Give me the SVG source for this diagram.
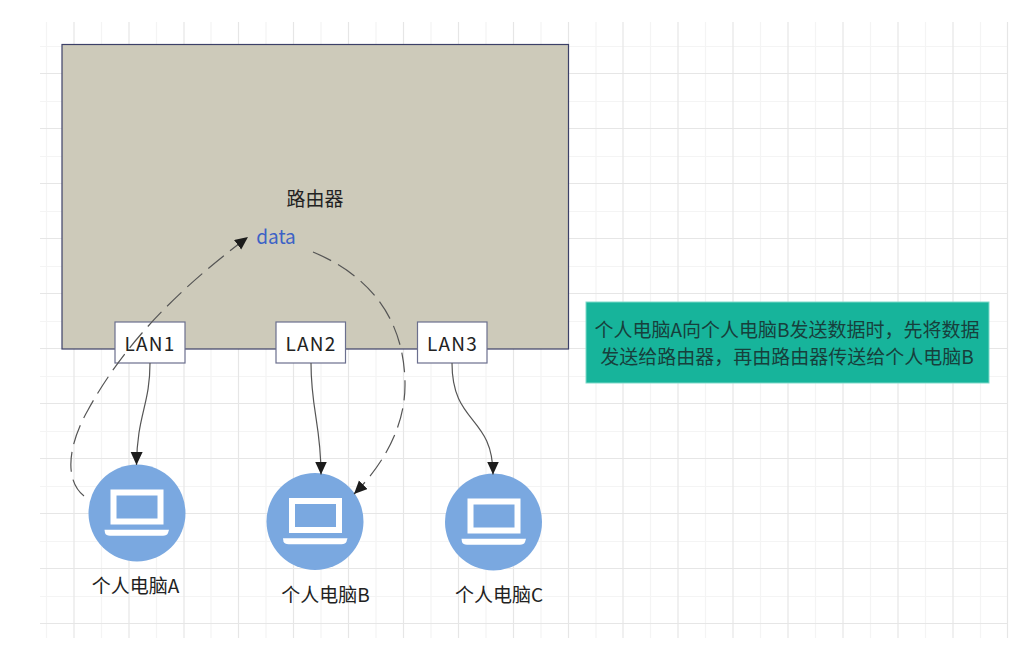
<svg xmlns="http://www.w3.org/2000/svg" width="1035" height="660" viewBox="0 0 1035 660">
<style>
text{font-family:"Noto Sans CJK SC","Noto Sans","Liberation Sans",sans-serif;font-size:19px;fill:#222;text-anchor:middle}
.minor{fill:none;stroke:#f4f4f4;stroke-width:1.2}
.major{fill:none;stroke:#e6e6e6;stroke-width:1.2}
.box{fill:#fff;stroke:#6b6f8e;stroke-width:1.2}
.lan{letter-spacing:1.2px}
.pc{fill:#7aa8e0}
.screen{fill:none;stroke:#fff;stroke-width:6}
.base{fill:#fff}
.wire{fill:none;stroke:#555;stroke-width:1.2;marker-end:url(#arrow)}
.dash{stroke-dasharray:20 8}
</style>
<defs>
<marker id="arrow" markerUnits="userSpaceOnUse" markerWidth="14" markerHeight="14" refX="13" refY="6" orient="auto"><path d="M0 0L13 6L0 12Z" fill="#1c1c1c"/></marker>
<g id="laptop"><rect x="-23.5" y="-20.5" width="47" height="29" class="screen"/><path class="base" d="M-32.5 16.7H32L31 20Q30 22.7 26 22.7H-27Q-31 22.7-32 20Z"/></g>
</defs>
<rect width="1035" height="660" fill="#fff"/>
<g id="grid">
<path class="minor" d="M46.5 22V638M101.5 22V638M156.5 22V638M211 22V638M266 22V638M321 22V638M376 22V638M431 22V638M486 22V638M541 22V638M596 22V638M650.5 22V638M705.5 22V638M760.5 22V638M815.5 22V638M870.5 22V638M925.5 22V638M980.5 22V638M40 46.5H1007M40 101.5H1007M40 156.5H1007M40 211.5H1007M40 266.5H1007M40 321.5H1007M40 376.5H1007M40 431.5H1007M40 486.5H1007M40 541.5H1007M40 596.5H1007"/>
<path class="major" d="M74 22V638M129 22V638M184 22V638M238.5 22V638M293.5 22V638M348.5 22V638M403.5 22V638M458.5 22V638M513.5 22V638M568.5 22V638M623 22V638M678 22V638M733 22V638M788 22V638M843 22V638M898 22V638M953 22V638M1007.5 22V638M40 73.5H1007M40 128.5H1007M40 183.5H1007M40 238.5H1007M40 293.5H1007M40 348.5H1007M40 403.5H1007M40 458.5H1007M40 513.5H1007M40 568.5H1007M40 623.5H1007"/>
</g>
<g id="router"><rect x="62" y="44.5" width="506.5" height="304.5" fill="#cdcaba" stroke="#3c4068" stroke-width="1.2"/><text x="315" y="206">路由器</text></g>
<g id="data"><text x="276" y="244" style="fill:#3c62c6">data</text></g>
<g id="lan1"><rect class="box" x="115" y="322" width="70" height="41"/><text class="lan" x="150" y="350.5">LAN1</text></g>
<g id="lan2"><rect class="box" x="276" y="322" width="69.5" height="41"/><text class="lan" x="311" y="350.5">LAN2</text></g>
<g id="lan3"><rect class="box" x="417.5" y="322" width="69.5" height="41"/><text class="lan" x="452.5" y="350.5">LAN3</text></g>
<g id="pcA"><circle class="pc" cx="137" cy="513" r="48.5"/><use href="#laptop" x="137" y="513"/><text x="135.5" y="593">个人电脑A</text></g>
<g id="pcB"><circle class="pc" cx="315" cy="521.5" r="48.5"/><use href="#laptop" x="315.5" y="521.5"/><text x="325.5" y="602">个人电脑B</text></g>
<g id="pcC"><circle class="pc" cx="493.5" cy="522" r="48.5"/><use href="#laptop" x="494" y="522"/><text x="499" y="602">个人电脑C</text></g>
<g id="note"><rect x="586" y="302" width="403" height="81" fill="#17b49b" stroke="#7fd9c9" stroke-width="1"/><text x="787" y="337" style="fill:#17403c">个人电脑A向个人电脑B发送数据时，先将数据</text><text x="787" y="364" style="fill:#17403c">发送给路由器，再由路由器传送给个人电脑B</text></g>
<g id="connectors">
<path class="wire" d="M150 363C150 405 137 415 136.5 465"/>
<path class="wire" d="M311 363C311 410 321 425 321 474.5"/>
<path class="wire" d="M452 363C452 425 493 415 493 474.5"/>
<path class="wire dash" d="M84 496C64 480 68 445 88 410C122 348 172 294 248 237"/>
<path class="wire dash" d="M313 252C380 280 405 330 405 385C405 430 380 468 354 494"/>
</g>
</svg>
